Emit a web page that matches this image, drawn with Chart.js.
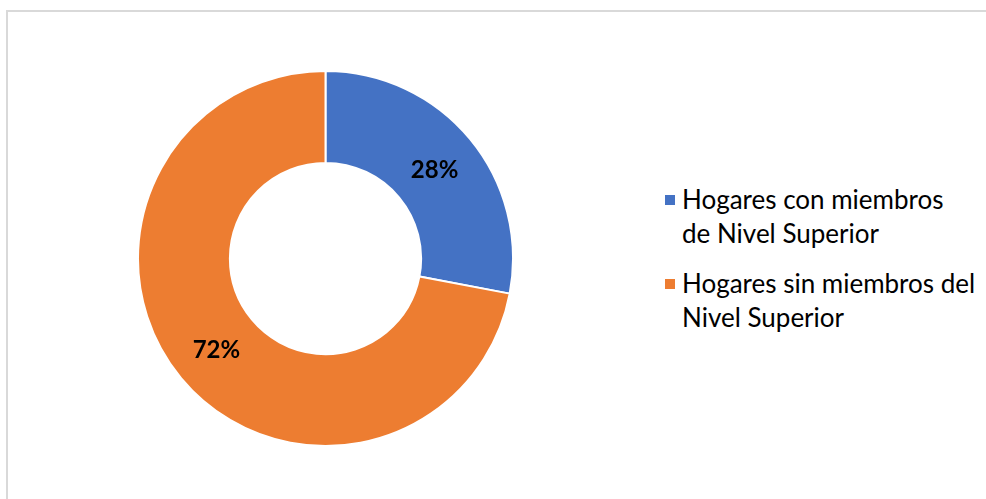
<!DOCTYPE html>
<html>
<head>
<meta charset="utf-8">
<script src="https://cdn.jsdelivr.net/npm/chart.js@4"></script>
<style>
  body { margin: 0; background: #fff; width: 986px; height: 499px; overflow: hidden; position: relative; }
  .frame { position: absolute; left: 6px; top: 10px; width: 1100px; height: 700px; border: 2px solid #d9d9d9; box-sizing: border-box; }
  .wrap { position: absolute; left: 137px; top: 70px; width: 377px; height: 377px; }
  .legend { position: absolute; left: 665px; top: 182px; font-family: Lato, sans-serif; font-size: 26px; color: #000; }
  .item { position: relative; padding-left: 17px; line-height: 34px; margin-bottom: 16px; }
  .box { position: absolute; left: 0; top: 13px; width: 10px; height: 10px; }
</style>
</head>
<body>
<div class="frame"></div>
<div class="wrap"><canvas id="c"></canvas></div>
<div class="legend" id="legend"></div>
<script>
// categories (each split the way the legend wraps them)
let labels = [
    ['Hogares con miembros', 'de Nivel Superior'],
    ['Hogares sin miembros del', 'Nivel Superior']
]
let values = [28, 72]
let colors = ['#4472C4', '#ED7D31']

// build the legend from the same arrays
let legend = document.getElementById('legend')
let html = ''
for (let i = 0; i < labels.length; i++) {
    html += `<div class="item"><span class="box" style="background:${colors[i]}"></span>${labels[i].join('<br>')}</div>`
}
legend.innerHTML = html

// percentage labels in the middle of each slice
const sliceLabels = {
    id: 'sliceLabels',
    afterDatasetsDraw(chart) {
        let ctx = chart.ctx
        let meta = chart.getDatasetMeta(0)
        let total = values.reduce((a, b) => a + b, 0)
        ctx.save()
        ctx.font = 'bold 24px Lato, sans-serif'
        ctx.fillStyle = '#000'
        ctx.textAlign = 'center'
        ctx.textBaseline = 'middle'
        meta.data.forEach((arc, i) => {
            let p = arc.tooltipPosition()
            ctx.fillText(Math.round(values[i] / total * 100) + '%', p.x, p.y + 2)
        })
        ctx.restore()
    }
}

new Chart(document.getElementById('c'), {
    type: 'doughnut',
    data: {
        labels: labels.map(l => l.join(' ')),
        datasets: [{
            data: values,
            backgroundColor: colors,
            borderColor: '#fff',
            borderWidth: 2
        }]
    },
    options: {
        responsive: true,
        maintainAspectRatio: false,
        animation: false,
        cutout: '51%',
        layout: { padding: 0 },
        plugins: {
            legend: { display: false },
            tooltip: { enabled: false }
        }
    },
    plugins: [sliceLabels]
})
</script>
</body>
</html>
